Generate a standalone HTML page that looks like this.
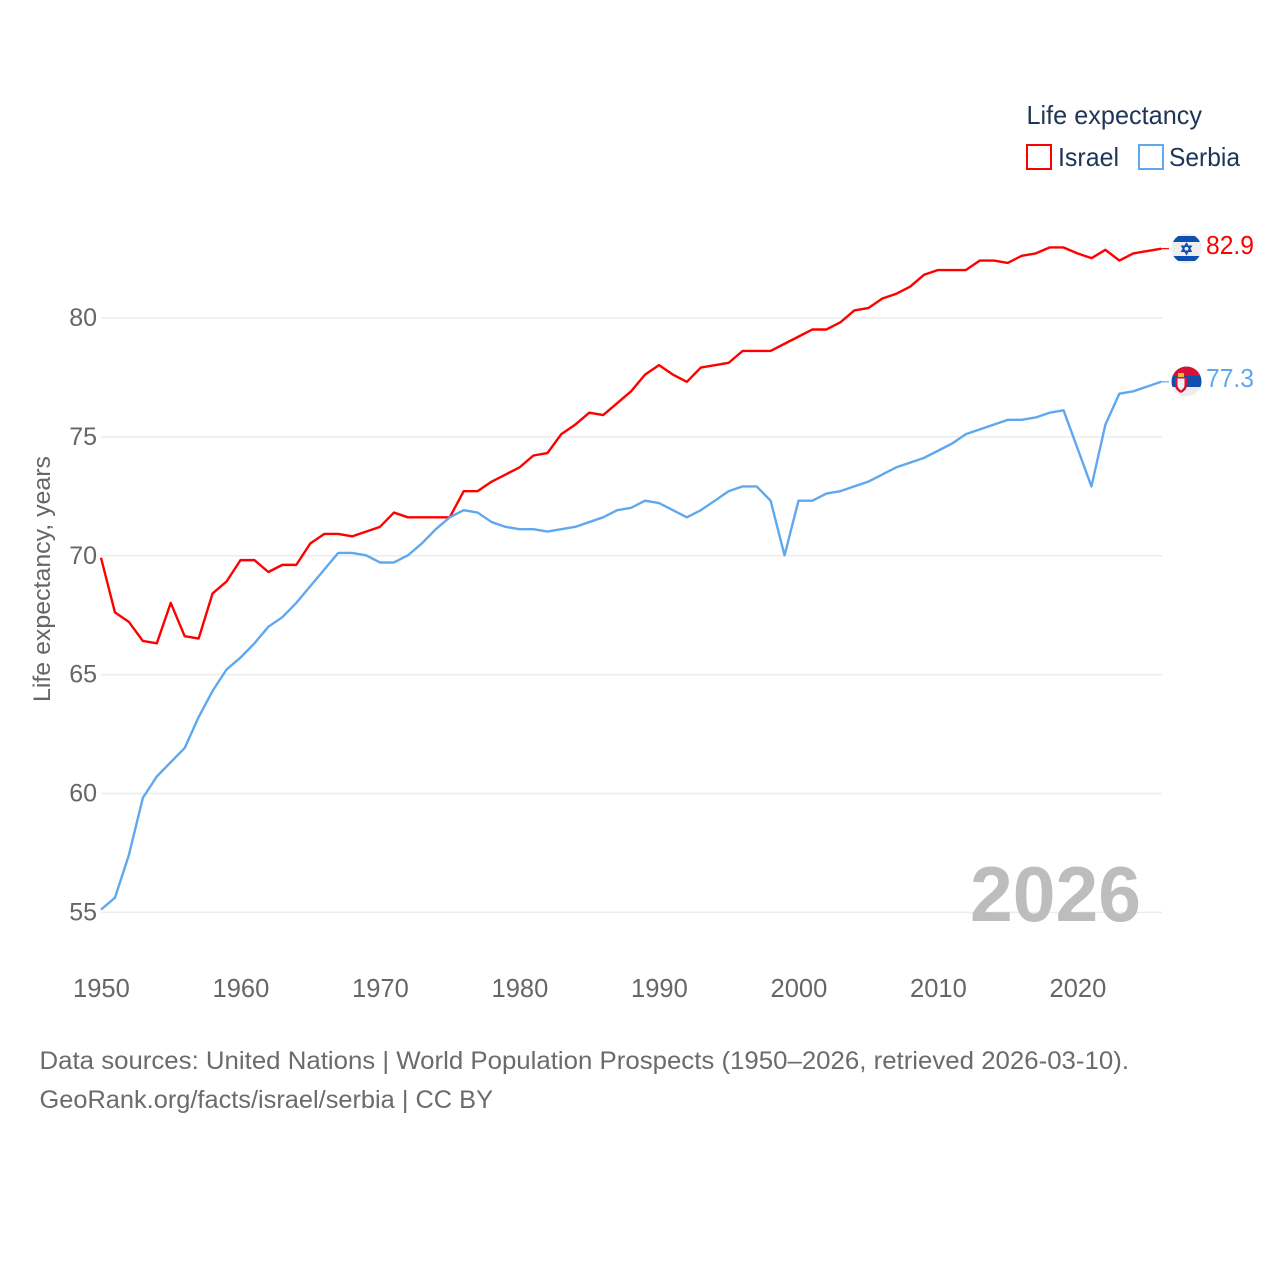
<!DOCTYPE html>
<html>
<head>
<meta charset="utf-8">
<title>Life expectancy: Israel and Serbia</title>
<style>
html,body{margin:0;padding:0;background:#fff;}
svg{display:block;font-family:"Liberation Sans",sans-serif;}
</style>
</head>
<body>
<svg id="chart" xmlns="http://www.w3.org/2000/svg" width="1280" height="1280" viewBox="0 0 1280 1280">
  <rect width="1280" height="1280" fill="#fff"/>
  <defs>
    <clipPath id="clip-il"><circle cx="1186.5" cy="248.5" r="15"/></clipPath>
    <clipPath id="clip-rs"><circle cx="1186.5" cy="381.5" r="15"/></clipPath>
  </defs>
  <g id="grid"></g>
  <g id="yticks"></g>
  <g id="xticks"></g>
  <text x="970" y="921" font-size="78" font-weight="700" fill="#bdbdbd" textLength="171" lengthAdjust="spacingAndGlyphs">2026</text>
  <text transform="translate(50,702) rotate(-90)" font-size="24" fill="#666" textLength="246" lengthAdjust="spacingAndGlyphs">Life expectancy, years</text>
  <g id="series"></g>

  <g>
    <text x="1026.5" y="124" font-size="26" fill="#1d3557" textLength="175.5" lengthAdjust="spacingAndGlyphs">Life expectancy</text>
    <rect x="1027" y="145" width="24" height="24" fill="none" stroke="#ff0000" stroke-width="2"/>
    <text x="1058" y="166" font-size="26" fill="#1d3557" textLength="61" lengthAdjust="spacingAndGlyphs">Israel</text>
    <rect x="1139" y="145" width="24" height="24" fill="none" stroke="#5fa8ee" stroke-width="2"/>
    <text x="1169" y="166" font-size="26" fill="#1d3557" textLength="71" lengthAdjust="spacingAndGlyphs">Serbia</text>
  </g>

  <g clip-path="url(#clip-il)">
    <rect x="1171" y="233" width="31" height="32" fill="#eeeeee"/>
    <rect x="1171" y="236" width="31" height="6" fill="#0f4fb0"/>
    <rect x="1171" y="256" width="31" height="5" fill="#0f4fb0"/>
    <polygon points="1186.5,243.5 1191,251.2 1182,251.2" fill="none" stroke="#0f4fb0" stroke-width="1.5"/>
    <polygon points="1186.5,254 1191,246.3 1182,246.3" fill="none" stroke="#0f4fb0" stroke-width="1.5"/>
  </g>
  <text x="1206" y="254" font-size="26" fill="#ff0000" textLength="48" lengthAdjust="spacingAndGlyphs">82.9</text>

  <g clip-path="url(#clip-rs)">
    <rect x="1171" y="366" width="31" height="32" fill="#eeeeee"/>
    <rect x="1171" y="366" width="31" height="10" fill="#d80f36"/>
    <rect x="1171" y="376" width="31" height="11" fill="#0f4fb0"/>
    <path d="M1175 377h12v8q0 5-6 8q-6-3-6-8z" fill="#d80f36"/>
    <path d="M1177.5 378.5h7v6.5q0 3-3.5 5.5q-3.5-2.5-3.5-5.5z" fill="#f2f2f2"/>
    <rect x="1178" y="373" width="6" height="4" fill="#f2b632"/>
  </g>
  <text x="1206" y="387" font-size="26" fill="#5fa8ee" textLength="48" lengthAdjust="spacingAndGlyphs">77.3</text>

  <text x="39.5" y="1069" font-size="25" fill="#6b6b6b" textLength="1089.5" lengthAdjust="spacingAndGlyphs">Data sources: United Nations | World Population Prospects (1950–2026, retrieved 2026-03-10).</text>
  <text x="39.5" y="1108" font-size="25" fill="#6b6b6b" textLength="453.5" lengthAdjust="spacingAndGlyphs">GeoRank.org/facts/israel/serbia | CC BY</text>
</svg>
<script>
const startYear = 1950;
const yTickValues = [55, 60, 65, 70, 75, 80];
const yTickLabels = ["55", "60", "65", "70", "75", "80"];
const xTickYears = [1950, 1960, 1970, 1980, 1990, 2000, 2010, 2020];
const xTickLabels = ["1950", "1960", "1970", "1980", "1990", "2000", "2010", "2020"];
const israelValues = [
  69.9,67.6,67.2,66.4,66.3,68.0,66.6,66.5,68.4,68.9,
  69.8,69.8,69.3,69.6,69.6,70.5,70.9,70.9,70.8,71.0,
  71.2,71.8,71.6,71.6,71.6,71.6,72.7,72.7,73.1,73.4,
  73.7,74.2,74.3,75.1,75.5,76.0,75.9,76.4,76.9,77.6,
  78.0,77.6,77.3,77.9,78.0,78.1,78.6,78.6,78.6,78.9,
  79.2,79.5,79.5,79.8,80.3,80.4,80.8,81.0,81.3,81.8,
  82.0,82.0,82.0,82.4,82.4,82.3,82.6,82.7,82.95,82.95,
  82.7,82.5,82.85,82.4,82.7,82.8,82.9
];
const serbiaValues = [
  55.1,55.6,57.4,59.8,60.7,61.3,61.9,63.2,64.3,65.2,
  65.7,66.3,67.0,67.4,68.0,68.7,69.4,70.1,70.1,70.0,
  69.7,69.7,70.0,70.5,71.1,71.6,71.9,71.8,71.4,71.2,
  71.1,71.1,71.0,71.1,71.2,71.4,71.6,71.9,72.0,72.3,
  72.2,71.9,71.6,71.9,72.3,72.7,72.9,72.9,72.3,70.0,
  72.3,72.3,72.6,72.7,72.9,73.1,73.4,73.7,73.9,74.1,
  74.4,74.7,75.1,75.3,75.5,75.7,75.7,75.8,76.0,76.1,
  74.5,72.9,75.5,76.8,76.9,77.1,77.3
];

const NS = "http://www.w3.org/2000/svg";
function xScale(year) { return 101 + (year - 1950) * (1161.2 - 101) / 76; }
function yScale(v) { return 912 - (v - 55) * (912 - 317.6) / 25; }
function make(tag, attrs, parent) {
  const el = document.createElementNS(NS, tag);
  for (const k in attrs) el.setAttribute(k, attrs[k]);
  parent.appendChild(el);
  return el;
}

const grid = document.getElementById("grid");
const yticks = document.getElementById("yticks");
const xticks = document.getElementById("xticks");
const series = document.getElementById("series");

yTickValues.forEach(function (v, i) {
  const y = yScale(v);
  const line = make("line", {x1: 101, x2: 1162, y1: y + 0.4, y2: y + 0.4, stroke: "#ececec", "stroke-width": 1.5}, grid);
  
  
  const t = make("text", {x: 97, y: y + 8.5, "text-anchor": "end", "font-size": 25, fill: "#666"}, yticks);
  
  
  t.textContent = yTickLabels[i];
});

xTickYears.forEach(function (yr, i) {
  const t = make("text", {x: xScale(yr) + 0.4, y: 997, "text-anchor": "middle", "font-size": 25.5, fill: "#666"}, xticks);
  
  
  t.textContent = xTickLabels[i];
});

function toPoints(values) {
  return values.map(function (v, i) {
    return xScale(startYear + i).toFixed(2) + "," + yScale(v).toFixed(2);
  }).join(" ");
}

const israelLine = make("polyline", {points: toPoints(israelValues), fill: "none", stroke: "#ff0000", "stroke-width": 2.4, "stroke-linejoin": "round"}, series);



const serbiaLine = make("polyline", {points: toPoints(serbiaValues), fill: "none", stroke: "#5fa8ee", "stroke-width": 2.4, "stroke-linejoin": "round"}, series);



const israelLast = yScale(israelValues[israelValues.length - 1]);
const israelStub = make("line", {x1: 1161, x2: 1169, y1: israelLast, y2: israelLast, stroke: "#ff0000", "stroke-width": 1.2}, series);



const serbiaLast = yScale(serbiaValues[serbiaValues.length - 1]);
const serbiaStub = make("line", {x1: 1161, x2: 1169, y1: serbiaLast, y2: serbiaLast, stroke: "#5fa8ee", "stroke-width": 1.2}, series);


</script>
</body>
</html>
